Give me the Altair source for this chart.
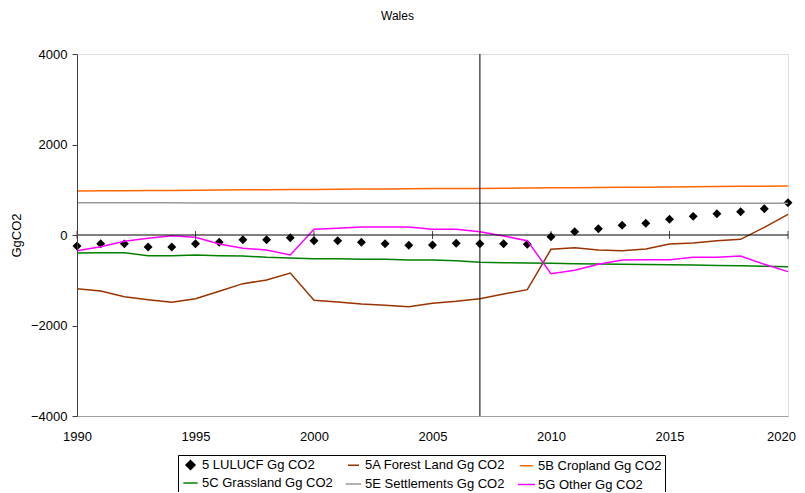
import altair as alt
import pandas as pd

years = list(range(1990, 2021))
series = ["5 LULUCF Gg CO2", "5A Forest Land Gg CO2", "5B Cropland Gg CO2",
          "5C Grassland Gg CO2", "5E Settlements Gg CO2", "5G Other Gg CO2"]
colors = ["#000000", "#993300", "#FF6600", "#008000", "#999999", "#FF00FF"]
shapes = ["diamond", "stroke", "stroke", "stroke", "stroke", "stroke"]
sym_sizes = [80, 289, 289, 289, 289, 289]

lulucf = [-243, -192, -196, -265, -265, -192, -162, -103, -103, -59,
          -125, -125, -162, -192, -228, -221, -184, -192, -192, -206,
          -37, 74, 140, 214, 258, 346, 412, 471, 515, 582, 714]
forest = [-1186, -1238, -1363, -1429, -1488, -1407, -1245, -1075, -994, -840,
          -1444, -1481, -1525, -1554, -1584, -1510, -1466, -1407, -1304, -1208,
          -317, -280, -331, -346, -309, -199, -177, -125, -96, 169, 457]
cropland = [975, 978, 980, 982, 985, 990, 995, 998, 1000, 1003,
            1008, 1012, 1015, 1018, 1022, 1025, 1028, 1030, 1035, 1038,
            1042, 1045, 1050, 1055, 1058, 1062, 1066, 1070, 1075, 1080, 1085]
grassland = [-398, -390, -390, -457, -457, -442, -457, -464, -493, -508,
             -523, -523, -538, -538, -552, -552, -567, -604, -611, -619,
             -626, -633, -640, -645, -650, -655, -665, -672, -680, -690, -700]
settlements = [714, 713, 712, 711, 710, 709, 708, 707, 706, 705,
               704, 703, 703, 702, 702, 701, 701, 700, 700, 700,
               700, 700, 700, 700, 700, 700, 700, 700, 700, 700, 700]
other = [-346, -258, -140, -74, -15, -52, -199, -295, -331, -442,
         125, 147, 177, 177, 177, 125, 125, 74, -22, -125,
         -855, -781, -648, -552, -545, -545, -493, -493, -464, -648, -810]

marker_year = [2007]
tick_years = [1990, 1995, 2000, 2005, 2010, 2015, 2020]
y_ticks = [-4000, -2000, 0, 2000, 4000]

line_values = [forest, cropland, grassland, settlements, other]
rows = []
for name, vals in zip(series[1:], line_values):
    for yr, v in zip(years, vals):
        rows.append({"year": yr, "value": v, "series": name})
df_lines = pd.DataFrame(rows)
df_pts = pd.DataFrame({"year": years, "value": lulucf, "series": series[0]})
df_ticks = pd.DataFrame({"year": tick_years, "value": [0] * len(tick_years)})
df_zero = pd.DataFrame({"value": [0]})
df_vline = pd.DataFrame({"year": marker_year})

FONT = "Liberation Sans"

xscale = alt.Scale(domain=[1990, 2020], nice=False, zero=False)
yscale = alt.Scale(domain=[-4000, 4000], nice=False)

x_enc = alt.X("year:Q", scale=xscale,
              axis=alt.Axis(title=None, values=tick_years, format="d", ticks=False,
                            grid=False, labelPadding=14, domainColor="#a0a0a0",
                            labelFlush=False, labelBound=False, labelOverlap=False,
                            labelOffset={"condition": {"test": "datum.value == 2020", "value": -7},
                                         "value": 0},
                            labelFontSize=13, labelFont=FONT, labelColor="#000"))
y_enc = alt.Y("value:Q", scale=yscale,
              axis=alt.Axis(title="GgCO2", values=y_ticks, format="d",
                            grid=False, tickSize=5, labelPadding=5, tickColor="#404040",
                            domainColor="#404040", labelFontSize=13, labelFont=FONT,
                            labelFlush=False, labelOverlap=False,
                            labelColor="#000", titleFontSize=13, titleFont=FONT,
                            titleFontWeight="normal", titleColor="#000", titlePadding=7,
                            zindex=1))

color_scale = alt.Scale(domain=series, range=colors)
shape_scale = alt.Scale(domain=series, range=shapes)
size_scale = alt.Scale(domain=series, range=sym_sizes)

legend = alt.Legend(
    title=None, orient="none", legendX=101, legendY=401, columns=3,
    direction="horizontal",
    strokeColor="#000", padding=3, rowPadding=2, columnPadding=9,
    labelFontSize=13, labelFont=FONT, labelColor="#000", labelOffset=2,
    symbolStrokeWidth=1.5, symbolOpacity=1,
)

zero = alt.Chart(df_zero).mark_rule(color="#000", strokeWidth=1).encode(y=alt.Y("value:Q", scale=yscale))
ticks = alt.Chart(df_ticks).mark_tick(orient="vertical", size=8, thickness=1, color="#000").encode(
    x=alt.X("year:Q", scale=xscale), y=alt.Y("value:Q", scale=yscale))
vline = alt.Chart(df_vline).mark_rule(color="#000", strokeWidth=1).encode(x=alt.X("year:Q", scale=xscale))

pts = alt.Chart(df_pts).mark_point(filled=True, opacity=1).encode(
    x=x_enc, y=y_enc,
    color=alt.Color("series:N", scale=color_scale, legend=legend),
    shape=alt.Shape("series:N", scale=shape_scale, legend=legend),
    size=alt.Size("series:N", scale=size_scale, legend=legend),
)
lines = alt.Chart(df_lines).mark_line(strokeWidth=1.5).encode(
    x=alt.X("year:Q", scale=xscale), y=alt.Y("value:Q", scale=yscale),
    color=alt.Color("series:N", scale=color_scale, legend=legend),
)

chart = alt.layer(pts, lines, zero, ticks, vline).properties(
    width=711, height=362,
    autosize=alt.AutoSizeParams(type="none"),
    padding={"left": 69, "top": 46, "right": 9, "bottom": 76},
    title=alt.TitleParams("Wales", fontSize=12, font=FONT, fontWeight="normal",
                          color="#000", anchor="middle", dx=-35, offset=25),
).configure_view(stroke="#a0a0a0", strokeWidth=1).configure(background="white")

chart.save("out.html", embed_options={"renderer": "svg", "actions": False})
